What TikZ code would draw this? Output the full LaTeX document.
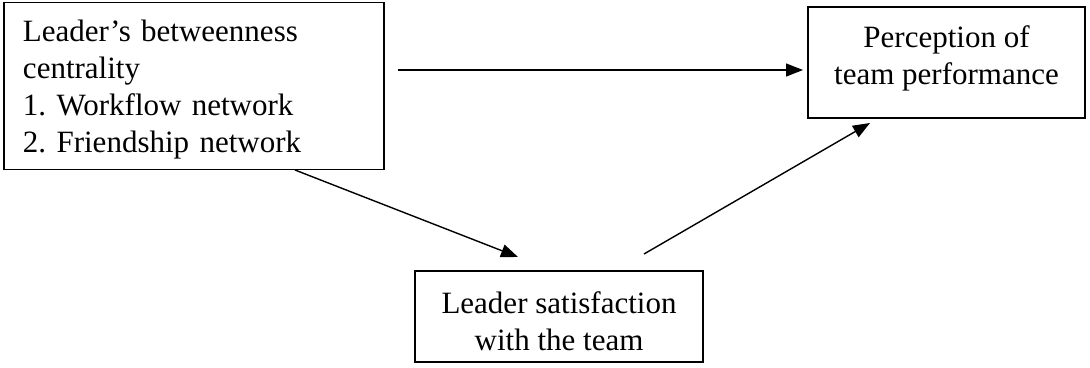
\documentclass[tikz,border=0pt]{standalone}
\usepackage{fontspec}
\setmainfont{Liberation Serif}
\usetikzlibrary{arrows.meta}
\begin{document}
\begin{tikzpicture}[x=1pt,y=-1pt,
  box/.style={draw,line width=1.4pt,inner sep=0pt},
  txt/.style={inner sep=0pt,font=\fontsize{31}{37}\selectfont\frenchspacing},
  conn/.style={line width=1.4pt,-{Triangle[length=17pt,width=13pt]}}]
\useasboundingbox (0,0) rectangle (1090,367);
\node[box,minimum width=380pt,minimum height=167pt] (lead) at (194,86) {};
\node[txt,text width=342pt,align=left,yshift=-4pt] (leadtxt) at (lead.center)
  {Leader’s betweenness\\centrality\\1. Workflow network\\2. Friendship network};
\node[box,minimum width=277pt,minimum height=111pt] (perc) at (946.5,62.5) {};
\node[txt,align=center,yshift=4pt] (perctxt) at (perc.center)
  {Perception of\\team performance};
\node[box,minimum width=288pt,minimum height=91pt] (sat) at (559,316.5) {};
\node[txt,align=center,yshift=-5pt] (sattxt) at (sat.center)
  {Leader satisfaction\\with the team};
\coordinate (a1s) at (398,70);
\coordinate (a1e) at (803,70);
\coordinate (a2s) at (295,170);
\coordinate (a2e) at (518,257);
\coordinate (a3s) at (644,254);
\coordinate (a3e) at (870,123);
\draw[conn] (a1s) -- (a1e);
\draw[conn] (a2s) -- (a2e);
\draw[conn] (a3s) -- (a3e);
\end{tikzpicture}
\end{document}
